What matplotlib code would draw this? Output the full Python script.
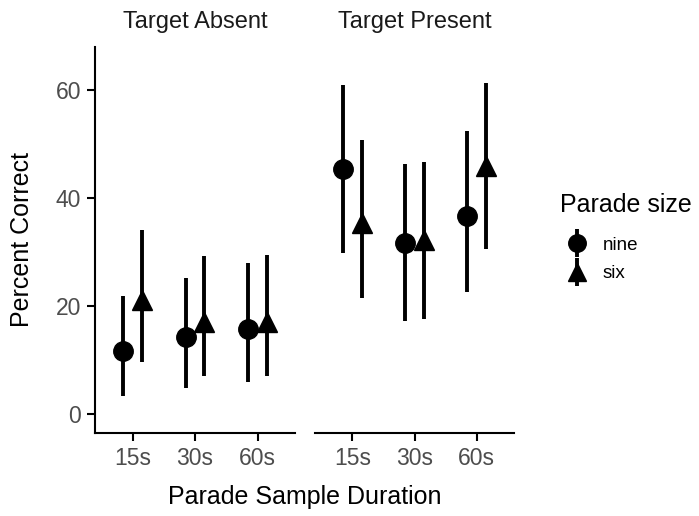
import matplotlib.pyplot as plt
from matplotlib.legend_handler import HandlerErrorbar
import numpy as np

plt.rcParams['font.family'] = ['Liberation Sans', 'DejaVu Sans']

durations = ['15s', '30s', '60s']
panels = ['Target Absent', 'Target Present']
sizes = ['nine', 'six']

# mean, lower, upper per panel, per parade size
mean = {
    ('Target Absent', 'nine'): [11.8, 14.3, 15.8],
    ('Target Absent', 'six'): [21.2, 17.1, 17.1],
    ('Target Present', 'nine'): [45.4, 31.7, 36.8],
    ('Target Present', 'six'): [35.4, 32.3, 46.0],
}
lower = {
    ('Target Absent', 'nine'): [3.4, 4.8, 5.9],
    ('Target Absent', 'six'): [9.7, 7.1, 7.1],
    ('Target Present', 'nine'): [29.9, 17.3, 22.6],
    ('Target Present', 'six'): [21.5, 17.6, 30.6],
}
upper = {
    ('Target Absent', 'nine'): [21.9, 25.2, 28.0],
    ('Target Absent', 'six'): [34.2, 29.3, 29.5],
    ('Target Present', 'nine'): [60.9, 46.3, 52.5],
    ('Target Present', 'six'): [50.8, 46.7, 61.3],
}

markers = {'nine': 'o', 'six': '^'}
msize = {'nine': 14, 'six': 15}
offset = {'nine': -0.15, 'six': 0.15}

fig = plt.figure(figsize=(6.99, 5.16), dpi=100)
bottom = 1 - 433 / 516
height = (433 - 47) / 516
ax1 = fig.add_axes([95 / 699, bottom, 200 / 699, height])
ax2 = fig.add_axes([315 / 699, bottom, 199 / 699, height])

handles = []
for ax, panel in zip([ax1, ax2], panels):
    x = np.arange(len(durations))
    for s in sizes:
        m = np.array(mean[(panel, s)])
        lo = np.array(lower[(panel, s)])
        hi = np.array(upper[(panel, s)])
        eb = ax.errorbar(x + offset[s], m, yerr=[m - lo, hi - m], fmt=markers[s],
                         color='black', ms=msize[s], elinewidth=2.8, capsize=0,
                         label=s)
        if ax is ax1:
            handles.append(eb)
    ax.set_xlim(-0.6, 2.6)
    ax.set_ylim(-3.46, 68)
    ax.set_xticks(x)
    ax.set_xticklabels(durations)
    for sp in ['top', 'right']:
        ax.spines[sp].set_visible(False)
    ax.spines['bottom'].set_linewidth(1.5)
    ax.spines['left'].set_linewidth(1.5)
    ax.tick_params(axis='both', labelsize=16.5, labelcolor='#4d4d4d', width=1.5,
                   length=6, color='black', pad=4)

fig.text(195 / 699, 1 - 22 / 516, panels[0], fontsize=17, color='#1a1a1a',
         ha='center', va='center')
fig.text(414.5 / 699, 1 - 22 / 516, panels[1], fontsize=17, color='#1a1a1a',
         ha='center', va='center')

ax1.set_yticks([0, 20, 40, 60])
ax2.spines['left'].set_visible(False)
ax2.tick_params(axis='y', left=False, labelleft=False)

fig.text(22 / 699, 1 - 240 / 516, 'Percent Correct', fontsize=18,
         rotation=90, ha='center', va='center')
fig.text(305 / 699, 1 - 497 / 516, 'Parade Sample Duration', fontsize=18,
         ha='center', va='center')

# legend
fig.text(560 / 699, 1 - 205 / 516, 'Parade size', fontsize=18,
         ha='left', va='center')
fig.legend(handles=handles, labels=sizes, frameon=False,
           loc='center left', bbox_to_anchor=(564 / 699, 1 - 259.5 / 516),
           borderaxespad=0, fontsize=13.5, handlelength=1.0, handletextpad=0.88,
           labelspacing=0.62, borderpad=0.2, markerscale=0.9,
           handler_map={type(handles[0]): HandlerErrorbar(xerr_size=0.5, yerr_size=0.75)})

fig.savefig('out.png', dpi=100)
